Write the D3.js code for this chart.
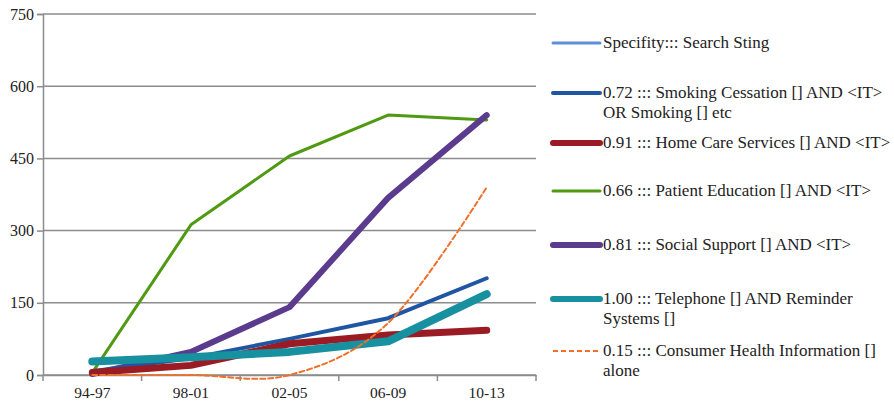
<!DOCTYPE html>
<html><head><meta charset="utf-8">
<script src="https://cdn.jsdelivr.net/npm/d3@7"></script>
<style>body{margin:0;background:#fff}svg{display:block}</style>
</head><body><svg id="c" width="894" height="401"></svg>
<script>
const categories = ["94-97","98-01","02-05","06-09","10-13"];
const yTicks = [0,150,300,450,600,750];
const seriesNames = [
  ["Specifity::: Search Sting"],
  ["0.72 ::: Smoking Cessation [] AND <IT>","OR Smoking [] etc"],
  ["0.91 ::: Home Care Services [] AND <IT>"],
  ["0.66 ::: Patient Education [] AND <IT>"],
  ["0.81 ::: Social Support [] AND <IT>"],
  ["1.00 ::: Telephone [] AND Reminder","Systems []"],
  ["0.15 ::: Consumer Health Information []","alone"]
];
const specifity = [];
const smoking = [8, 35, 75, 118, 201];
const homeCare = [5, 20, 65, 83, 93];
const patientEd = [5, 312, 455, 540, 530];
const socialSupport = [2, 48, 141, 368, 540];
const telephone = [28, 37, 48, 70, 168];
const consumerHealth = [0, 0, 0, 108, 390];

const FONT = "Liberation Serif";
const styles = [
  {c:"#5b8fd8", w:3},
  {c:"#1f56a3", w:4},
  {c:"#9a1b24", w:7},
  {c:"#4f9a12", w:3},
  {c:"#5a3b8e", w:6},
  {c:"#17909f", w:8},
  {c:"#f0702a", w:2, dash:"5,3", smooth:true}
];
const data = [specifity, smoking, homeCare, patientEd, socialSupport, telephone, consumerHealth];

const svg = d3.select("#c");
const x = d3.scaleBand().domain(categories).range([43,536]);
const y = d3.scaleLinear().domain([0,750]).range([375,14]);

svg.append("g").selectAll("line").data(yTicks).join("line")
  .attr("x1",43).attr("x2",536).attr("y1",d=>y(d)).attr("y2",d=>y(d))
  .attr("stroke","#8c8c8c").attr("stroke-width",1.5);

const ya = svg.append("g").attr("transform","translate(43,0)")
  .call(d3.axisLeft(y).tickValues(yTicks).tickSize(6).tickPadding(3));
ya.attr("font-family",null);
ya.select(".domain").attr("stroke","#8c8c8c").attr("stroke-width",1.5);
ya.selectAll(".tick line").attr("stroke","#8c8c8c").attr("stroke-width",1.5);
ya.selectAll("text").style("font-family",FONT).style("font-size","16px").attr("fill","#222");

const xa = svg.append("g").attr("transform","translate(0,375)")
  .call(d3.axisBottom(x).tickSize(0).tickPadding(12));
xa.attr("font-family",null);
xa.select(".domain").attr("stroke","#8c8c8c").attr("stroke-width",1.5);
xa.selectAll("text").style("font-family",FONT).style("font-size","15.5px").attr("fill","#222");
const bounds = categories.map(c=>x(c)).concat([536]);
xa.selectAll(".bt").data(bounds).join("line").attr("class","bt")
  .attr("x1",d=>d).attr("x2",d=>d).attr("y1",0).attr("y2",6)
  .attr("stroke","#8c8c8c").attr("stroke-width",1.5);

const cx = d=>x(d)+x.bandwidth()/2;
[3,4,1,2,5,6].forEach(i=>{
  const s = styles[i], vals = data[i];
  if(!vals.length) return;
  const line = d3.line().x((d,j)=>cx(categories[j])).y(d=>y(d))
    .curve(s.smooth ? d3.curveCatmullRom.alpha(0) : d3.curveLinear);
  svg.append("path").datum(vals).attr("d",line).attr("fill","none")
    .attr("stroke",s.c).attr("stroke-width",s.w)
    .attr("stroke-linecap","round").attr("stroke-linejoin","round")
    .attr("stroke-dasharray",s.dash||null);
});

const legY = [43,93,143,191,245,299,351];
const lg = svg.append("g");
seriesNames.forEach((lines,i)=>{
  const s = styles[i];
  lg.append("line").attr("x1",553).attr("x2",600).attr("y1",legY[i]).attr("y2",legY[i])
    .attr("stroke",s.c).attr("stroke-width",Math.min(s.w,6))
    .attr("stroke-linecap",s.dash?"butt":"round").attr("stroke-dasharray",s.dash||null);
  const t = lg.append("text").attr("x",603).attr("y",legY[i]+5)
    .style("font-family",FONT).style("font-size","17px").attr("fill","#222");
  lines.forEach((l,k)=>t.append("tspan").attr("x",603).attr("dy",k?20:0).text(l));
});
</script></body></html>
